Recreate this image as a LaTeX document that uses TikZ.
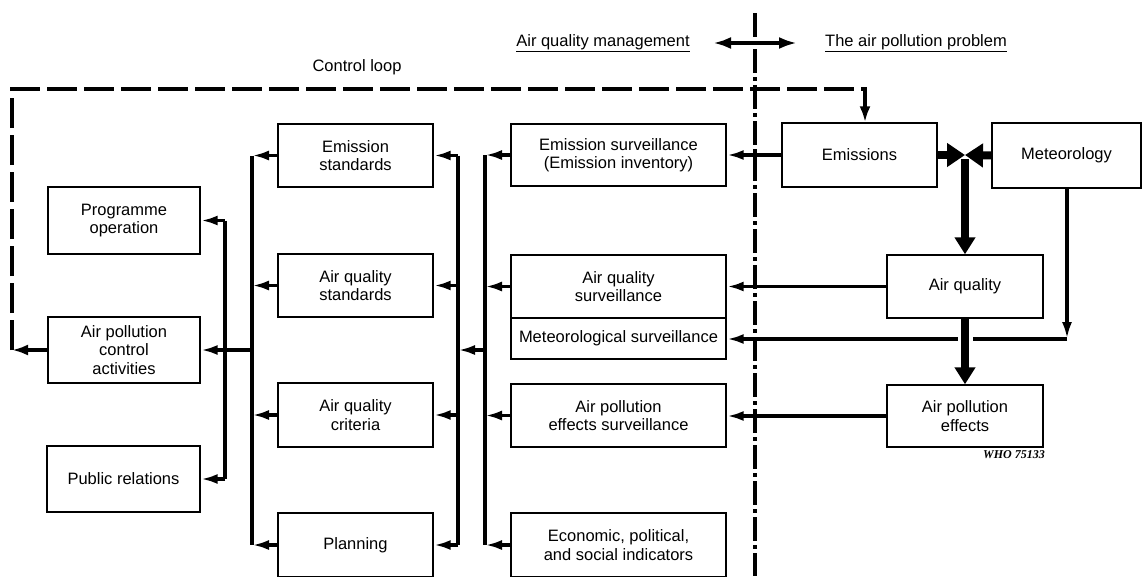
\documentclass[tikz,border=0pt]{standalone}
\usepackage{fontspec}
\setmainfont{Liberation Sans}
\newfontfamily\whofont{Liberation Serif}
\usetikzlibrary{arrows.meta}
\begin{document}
\begin{tikzpicture}[x=1pt,y=-1pt,
  box/.style={draw, line width=1.4pt, align=center, inner sep=0pt,
    font=\fontsize{16.5}{18.5}\selectfont},
  sz/.style 2 args={minimum width=#1pt, minimum height=#2pt},
  lab/.style={font=\fontsize{16.5}{18.5}\selectfont, inner sep=0pt},
  conn/.style={line width=3.5pt},
  arr/.style={conn, -{Latex[length=17pt,width=10pt]}},
  big/.style={line width=8pt, -{Triangle[length=18pt,width=23pt]}},
  bigdown/.style={line width=8pt, -{Triangle[length=17pt,width=20pt]}},
  ctrlloop/.style={line width=3.8pt, dash pattern=on 30pt off 7pt, line join=miter},
  divider/.style={line width=3.8pt, dash pattern=on 24pt off 4pt on 4pt off 4pt}]
\useasboundingbox (0,0) rectangle (1142,576);

% boxes
\node[box, sz={152}{67}] (prog) at (124,220.5) {Programme\\operation};
\node[box, sz={152}{66}] (apca) at (124,350) {Air pollution\\control\\activities};
\node[box, sz={153}{66}] (pr) at (123.5,479) {Public relations};
\node[box, sz={155}{63}] (es) at (355.5,155.5) {Emission\\standards};
\node[box, sz={155}{63}] (aqs) at (355.5,285.5) {Air quality\\standards};
\node[box, sz={155}{64}] (aqc) at (355.5,415) {Air quality\\criteria};
\node[box, sz={155}{64}] (plan) at (355.5,545) {Planning};
\node[box, sz={215}{62}] (esv) at (618.5,155) {Emission surveillance\\(Emission inventory)};
\node[box, sz={215}{63}] (aqsv) at (618.5,286.5) {Air quality\\surveillance};
\node[box, sz={215}{41}] (msv) at (618.5,338.5) {Meteorological surveillance};
\node[box, sz={215}{63}] (epsv) at (618.5,415.5) {Air pollution\\effects surveillance};
\node[box, sz={215}{64}] (econ) at (618.5,545) {Economic, political,\\and social indicators};
\node[box, sz={155}{64}] (emis) at (859.5,155) {Emissions};
\node[box, sz={149}{65}] (meteo) at (1066.5,155.5) {Meteorology};
\node[box, sz={156}{63}] (aq) at (965,286.5) {Air quality};
\node[box, sz={156}{62}] (ape) at (965,416) {Air pollution\\effects};

% labels
\node[lab] (aqm) at (603,43) {\underline{Air quality management}};
\node[lab] (tapp) at (916,43) {\underline{The air pollution problem}};
\node[lab] (cl) at (357,67) {Control loop};
\node[font=\whofont\bfseries\itshape\fontsize{12}{14}\selectfont, inner sep=0pt] (who) at (1014,455) {WHO 75133};

% helper coordinates
\coordinate (b1) at (225,0);
\coordinate (b2) at (252,0);
\coordinate (b3) at (458,0);
\coordinate (b4) at (485,0);
\coordinate (d1) at (755,13);
\coordinate (d2) at (755,576);
\coordinate (h1) at (713,43);
\coordinate (h2) at (797,43);
\coordinate (cl1) at (12,350);
\coordinate (cl2) at (12,89);
\coordinate (cl3) at (865,89);
\coordinate (mc) at (1067,339);

% divider and header arrow
\draw[divider] (d1) -- (d2);
\draw[line width=3.8pt, {Latex[length=18pt,width=12pt]}-{Latex[length=18pt,width=12pt]}] (h1) -- (h2);

% control loop
\draw[ctrlloop, -{Latex[length=16pt,width=11pt]}] (apca.west) -- (cl1);
\draw[ctrlloop, -{Latex[length=16pt,width=11pt]}] (cl1) -- (cl2) -- (cl3) -- (cl3 |- emis.north);

% bus 1 (x=225)
\draw[conn] (prog.east -| b1) -- (pr.east -| b1);
\draw[arr] (prog.east -| b1) -- (prog.east);
\draw[arr] (pr.east -| b1) -- (pr.east);

% bus 2 (x=252)
\draw[conn] (es.west -| b2) -- (plan.west -| b2);
\draw[arr] (es.west) -- (es.west -| b2);
\draw[arr] (aqs.west) -- (aqs.west -| b2);
\draw[arr] (aqc.west) -- (aqc.west -| b2);
\draw[arr] (plan.west) -- (plan.west -| b2);
\draw[arr] (apca.east -| b2) -- (apca.east);

% bus 3 (x=458)
\draw[conn] (es.east -| b3) -- (plan.east -| b3);
\draw[arr] (es.east -| b3) -- (es.east);
\draw[arr] (aqs.east -| b3) -- (aqs.east);
\draw[arr] (aqc.east -| b3) -- (aqc.east);
\draw[arr] (plan.east -| b3) -- (plan.east);

% bus 4 (x=485)
\draw[conn] (esv.west -| b4) -- (econ.west -| b4);
\draw[arr] (esv.west) -- (esv.west -| b4);
\draw[arr] (aqsv.west) -- (aqsv.west -| b4);
\draw[arr] (epsv.west) -- (epsv.west -| b4);
\draw[arr] (econ.west) -- (econ.west -| b4);
\draw[arr] (apca.east -| b4) -- (apca.east -| b3);

% right side
\draw[arr] (emis.west) -- (esv.east);
\draw[arr] (aq.west) -- (aq.west -| aqsv.east);
\draw[arr] (ape.west) -- (ape.west -| epsv.east);
\draw[arr] (meteo.south -| mc) -- (mc);
\draw[arr] (mc) -- (mc -| msv.east);

\draw[big] (emis.east) -- (emis.east -| aq.north);
\draw[big] (meteo.west) -- (emis.east -| aq.north);
\draw[bigdown] (emis.east -| aq.north) ++(0,4) -- (aq.north);
\draw[bigdown, preaction={draw, white, line width=15pt, -, shorten <=10pt, shorten >=25pt}] (aq.south) -- (ape.north);
\end{tikzpicture}
\end{document}
